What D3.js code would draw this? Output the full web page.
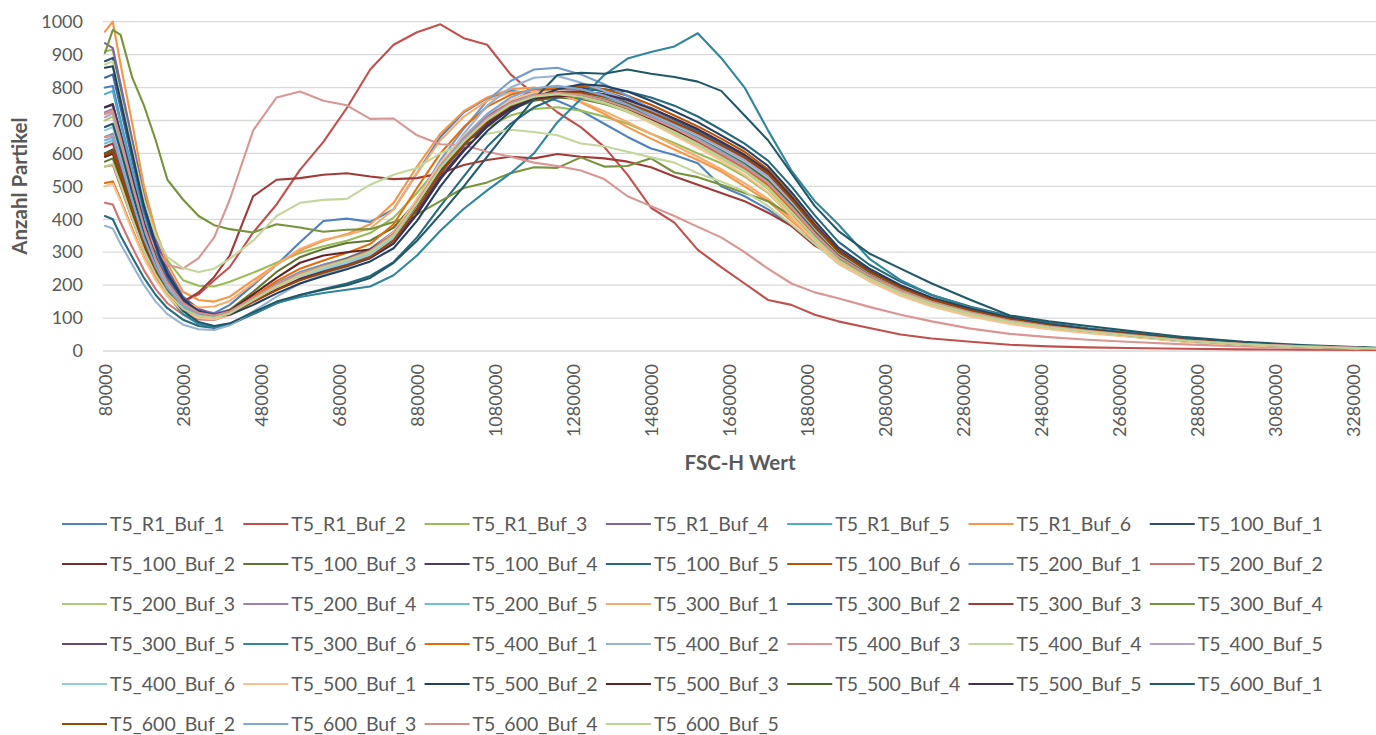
<!DOCTYPE html>
<html><head><meta charset="utf-8">
<script src="https://cdn.jsdelivr.net/npm/d3@7"></script>
<style>
html,body{margin:0;padding:0;background:#fff;}
svg{display:block;font-family:Lato,"Open Sans",sans-serif;}
</style></head>
<body><svg id="c" width="1376" height="735"></svg>
<script>
// FSC-H categories (x values of the data points)
const fscValues = [80000,100000,120000,150000,180000,210000,240000,280000,320000,360000,
 400000,460000,520000,580000,640000,700000,760000,820000,880000,940000,
 1000000,1060000,1120000,1180000,1240000,1300000,1360000,1420000,1480000,1540000,
 1600000,1660000,1720000,1780000,1840000,1900000,1960000,2040000,2120000,2200000,
 2300000,2400000,2500000,2600000,2700000,2850000,3000000,3150000,3340000];
const xTickLabels = [80000,280000,480000,680000,880000,1080000,1280000,1480000,1680000,1880000,2080000,2280000,2480000,2680000,2880000,3080000,3280000];
const yTickLabels = [0,100,200,300,400,500,600,700,800,900,1000];

const T5_R1_Buf_1 = [800,805,700,550,400,290,215,150,122,115, 140,200,262,330,395,402,392,430,540,650, 725,768,790,782,760,730,690,650,615,595, 570,500,470,430,380,330,275,222,180,146, 114,90,72,59,48,31,20,13,7];
const T5_R1_Buf_2 = [560,565,500,400,305,230,175,150,172,215, 255,360,445,550,635,738,855,930,968,992, 950,930,840,780,725,680,620,535,435,390, 307,255,205,155,140,110,90,70,50,38, 28,19,14,11,9,7,5,4,3];
const T5_R1_Buf_3 = [910,915,800,640,480,360,275,215,198,196, 210,238,268,298,318,335,358,405,480,565, 625,680,715,735,740,730,712,690,660,632, 600,570,530,480,410,335,270,218,175,142, 112,88,71,58,47,30,20,13,7];
const T5_R1_Buf_4 = [935,920,810,640,470,340,250,165,128,112, 125,165,205,238,262,282,310,362,458,568, 642,712,760,790,798,790,772,748,718,688, 655,615,575,525,450,368,296,234,190,152, 120,95,77,62,51,33,21,14,8];
const T5_R1_Buf_5 = [780,790,690,545,400,292,215,148,115,102, 112,150,188,222,246,266,290,335,425,530, 610,685,738,770,785,785,772,752,725,695, 662,622,580,530,455,372,298,236,190,154, 121,96,77,63,52,34,22,14,8];
const T5_R1_Buf_6 = [970,1000,870,690,500,365,265,180,155,150, 165,215,262,305,335,355,385,450,560,660, 728,770,795,800,785,755,720,680,645,612, 580,545,500,455,395,335,275,222,178,144, 112,87,70,57,46,29,19,12,7];
const T5_100_Buf_1 = [880,890,780,615,450,325,238,160,122,110, 122,162,200,232,254,272,298,345,440,548, 628,700,752,782,798,800,788,765,738,705, 672,632,592,540,462,380,305,242,195,158, 124,98,79,64,52,34,22,14,8];
const T5_100_Buf_2 = [600,612,540,430,325,245,185,132,110,104, 118,158,196,228,250,268,292,340,435,545, 625,695,742,768,778,775,760,738,708,676, 642,602,562,512,438,358,288,229,185,150, 118,93,75,61,50,32,21,14,8];
const T5_100_Buf_3 = [575,585,520,415,315,238,180,130,108,104, 125,180,240,285,310,328,335,375,455,550, 625,690,735,760,770,765,750,728,700,668, 635,598,558,508,435,356,288,230,186,151, 119,94,76,62,50,33,21,14,8];
const T5_100_Buf_4 = [740,750,660,520,385,282,208,145,115,106, 116,152,190,222,245,262,285,330,420,528, 612,688,740,772,785,785,775,755,728,698, 665,628,588,538,460,376,300,238,192,155, 122,96,78,63,51,33,22,14,8];
const T5_100_Buf_5 = [410,400,350,285,222,170,130,95,76,70, 80,112,145,170,188,205,228,270,345,440, 530,620,690,740,770,790,795,788,770,745, 712,672,630,578,500,412,332,262,210,170, 134,106,85,69,56,37,24,15,9];
const T5_100_Buf_6 = [590,600,530,425,322,242,182,130,106,100, 115,155,192,222,244,262,288,335,432,545, 630,705,755,785,800,805,795,775,748,715, 682,645,605,552,472,385,308,244,196,158, 124,98,79,64,52,34,22,14,8];
const T5_200_Buf_1 = [650,660,585,465,350,262,196,140,112,104, 118,162,205,240,262,280,305,358,460,580, 675,760,820,855,860,840,810,775,735,695, 655,610,565,512,435,352,282,224,180,146, 115,91,73,60,49,32,21,13,8];
const T5_200_Buf_2 = [450,445,390,315,245,188,145,110,96,94, 110,150,190,225,248,268,292,342,440,550, 632,702,750,775,782,775,758,732,700,668, 632,592,552,502,428,350,282,225,182,148, 117,92,74,60,49,32,21,14,8];
const T5_200_Buf_3 = [700,712,628,495,368,272,202,142,112,102, 112,150,188,220,242,262,288,338,435,545, 628,698,745,770,778,770,752,726,695,660, 625,585,545,492,418,340,272,218,176,143, 113,89,72,59,48,31,20,13,7];
const T5_200_Buf_4 = [725,735,648,510,378,278,205,143,113,104, 116,155,195,230,252,272,298,348,445,555, 638,708,755,780,790,785,770,745,715,685, 650,612,572,522,448,366,294,234,188,152, 120,95,76,62,51,33,21,14,8];
const T5_200_Buf_5 = [630,640,565,450,340,255,192,136,108,100, 112,150,190,224,246,266,290,340,438,548, 630,700,748,775,785,780,765,742,712,680, 646,606,566,516,442,360,290,230,185,150, 118,93,75,61,50,32,21,14,8];
const T5_300_Buf_1 = [720,730,645,510,380,280,208,150,132,135, 152,205,262,310,338,352,372,430,540,640, 712,760,785,790,780,758,728,695,660,625, 590,552,510,462,400,335,275,222,178,143, 111,86,69,56,45,29,19,12,7];
const T5_300_Buf_2 = [830,840,738,580,425,308,225,155,120,108, 118,158,196,228,250,270,296,345,442,552, 635,705,752,780,792,790,778,756,728,698, 665,628,588,538,462,378,303,240,193,156, 123,97,78,63,52,34,22,14,8];
const T5_300_Buf_3 = [620,630,555,440,335,252,190,150,178,225, 290,470,520,525,535,540,530,522,525,540, 565,580,590,585,598,590,585,575,558,530, 505,480,455,420,380,320,280,225,180,145, 113,88,71,58,47,30,20,13,7];
const T5_300_Buf_4 = [905,975,960,830,745,640,520,460,410,382, 370,360,385,375,362,368,370,392,415,455, 495,512,540,558,556,588,560,562,585,542, 528,505,480,455,410,345,280,225,180,147, 115,90,72,59,48,31,20,13,7];
const T5_300_Buf_5 = [600,608,538,428,325,245,185,132,108,102, 114,152,190,222,245,264,290,338,432,540, 622,695,745,775,788,786,774,752,724,694, 660,622,582,532,455,372,298,236,190,154, 121,95,77,62,51,33,21,14,8];
const T5_300_Buf_6 = [650,655,580,455,335,240,170,112,82,72, 80,115,146,164,176,186,196,230,290,365, 432,488,540,600,695,765,838,888,908,925, 965,890,800,670,548,455,385,280,215,170, 132,104,83,67,55,36,23,15,9];
const T5_400_Buf_1 = [510,515,460,370,285,218,168,122,102,100, 118,165,212,250,275,298,325,385,495,600, 680,742,778,795,800,790,772,745,712,675, 640,600,558,505,432,355,285,228,183,148, 116,91,73,60,49,32,21,13,8];
const T5_400_Buf_2 = [380,372,325,262,200,150,112,80,66,64, 78,120,165,205,232,255,282,335,440,560, 660,745,800,830,835,815,790,760,728,695, 660,620,578,525,448,365,292,232,186,150, 118,93,75,61,50,32,21,14,8];
const T5_400_Buf_3 = [650,655,580,470,380,310,262,250,282,345, 460,670,770,788,760,746,705,706,655,628, 625,605,590,572,562,548,522,470,440,410, 377,345,300,250,205,178,160,134,110,90, 68,52,42,34,28,20,14,9,6];
const T5_400_Buf_4 = [870,880,775,615,460,350,285,252,240,250, 280,335,410,450,459,462,505,535,556,600, 632,660,672,665,655,630,622,605,588,572, 540,515,485,440,385,325,265,212,170,138, 108,85,68,56,45,29,19,12,7];
const T5_400_Buf_5 = [710,722,640,505,375,278,205,145,114,105, 115,152,192,226,250,270,295,345,440,552, 635,705,752,778,790,788,775,752,722,692, 658,620,580,530,452,368,295,234,188,152, 120,95,76,62,50,33,21,14,8];
const T5_400_Buf_6 = [670,680,600,475,355,265,198,140,111,103, 114,152,192,226,248,268,292,342,438,550, 632,702,750,776,786,782,768,745,715,684, 650,612,572,522,446,364,292,232,186,151, 119,94,76,62,50,33,21,14,8];
const T5_500_Buf_1 = [500,508,455,365,282,216,166,120,100,96, 110,150,190,228,255,278,305,360,462,572, 652,720,762,785,790,780,758,728,692,655, 618,578,535,482,410,335,268,212,168,135, 105,82,66,54,44,28,18,12,7];
const T5_500_Buf_2 = [860,865,760,600,440,318,232,158,120,106, 110,140,175,205,228,248,272,312,395,500, 590,668,728,768,795,810,805,788,760,728, 695,655,615,562,482,395,315,250,200,162, 128,101,81,66,54,35,23,15,8];
const T5_500_Buf_3 = [590,600,532,425,322,242,182,130,108,104, 122,172,222,268,290,300,308,352,445,550, 628,695,740,765,775,772,758,735,705,672, 638,600,560,510,436,356,286,228,184,149, 117,92,74,61,49,32,21,14,8];
const T5_500_Buf_4 = [600,610,540,432,328,248,188,135,110,104, 118,160,200,235,258,280,306,355,448,552, 630,698,745,772,782,778,764,742,712,680, 646,608,568,518,444,362,290,230,185,150, 118,93,75,61,50,32,21,14,8];
const T5_500_Buf_5 = [740,748,660,522,388,285,210,148,117,107, 115,150,186,218,240,258,282,326,415,522, 608,682,735,768,785,788,780,762,736,706, 674,636,596,546,468,382,305,242,195,158, 124,98,79,64,52,34,22,14,8];
const T5_600_Buf_1 = [680,690,610,480,355,258,185,122,88,76, 84,118,150,170,186,200,222,268,335,415, 500,590,680,765,838,845,842,855,842,832, 818,790,715,640,540,440,365,296,250,205, 155,108,90,76,62,42,28,18,10];
const T5_600_Buf_2 = [595,605,535,428,325,245,186,134,110,103, 114,150,185,215,238,258,285,336,432,540, 625,698,748,775,786,785,772,752,725,694, 662,625,588,540,462,378,302,240,193,156, 123,97,78,63,52,34,22,14,8];
const T5_600_Buf_3 = [640,648,572,455,342,256,192,136,110,102, 114,155,196,232,256,276,302,352,450,562, 648,720,770,798,805,795,776,748,715,680, 645,605,564,512,438,356,286,228,184,149, 117,92,74,60,49,32,21,14,8];
const T5_600_Buf_4 = [720,728,645,508,378,280,208,146,116,108, 120,162,202,236,258,278,304,355,452,560, 640,708,752,776,784,778,762,738,708,676, 640,600,560,510,436,356,286,228,184,149, 117,92,74,61,49,32,21,14,8];
const T5_600_Buf_5 = [560,568,505,402,305,232,176,128,106,101, 114,155,196,230,254,275,300,350,448,556, 636,702,748,772,780,772,755,730,698,665, 628,588,548,496,422,344,276,220,177,144, 113,89,72,59,48,31,20,13,7];

const seriesNames = ["T5_R1_Buf_1","T5_R1_Buf_2","T5_R1_Buf_3","T5_R1_Buf_4","T5_R1_Buf_5","T5_R1_Buf_6",
 "T5_100_Buf_1","T5_100_Buf_2","T5_100_Buf_3","T5_100_Buf_4","T5_100_Buf_5","T5_100_Buf_6",
 "T5_200_Buf_1","T5_200_Buf_2","T5_200_Buf_3","T5_200_Buf_4","T5_200_Buf_5",
 "T5_300_Buf_1","T5_300_Buf_2","T5_300_Buf_3","T5_300_Buf_4","T5_300_Buf_5","T5_300_Buf_6",
 "T5_400_Buf_1","T5_400_Buf_2","T5_400_Buf_3","T5_400_Buf_4","T5_400_Buf_5","T5_400_Buf_6",
 "T5_500_Buf_1","T5_500_Buf_2","T5_500_Buf_3","T5_500_Buf_4","T5_500_Buf_5",
 "T5_600_Buf_1","T5_600_Buf_2","T5_600_Buf_3","T5_600_Buf_4","T5_600_Buf_5"];
const seriesValues = [T5_R1_Buf_1,T5_R1_Buf_2,T5_R1_Buf_3,T5_R1_Buf_4,T5_R1_Buf_5,T5_R1_Buf_6,
 T5_100_Buf_1,T5_100_Buf_2,T5_100_Buf_3,T5_100_Buf_4,T5_100_Buf_5,T5_100_Buf_6,
 T5_200_Buf_1,T5_200_Buf_2,T5_200_Buf_3,T5_200_Buf_4,T5_200_Buf_5,
 T5_300_Buf_1,T5_300_Buf_2,T5_300_Buf_3,T5_300_Buf_4,T5_300_Buf_5,T5_300_Buf_6,
 T5_400_Buf_1,T5_400_Buf_2,T5_400_Buf_3,T5_400_Buf_4,T5_400_Buf_5,T5_400_Buf_6,
 T5_500_Buf_1,T5_500_Buf_2,T5_500_Buf_3,T5_500_Buf_4,T5_500_Buf_5,
 T5_600_Buf_1,T5_600_Buf_2,T5_600_Buf_3,T5_600_Buf_4,T5_600_Buf_5];
const seriesColors = ["#4F81BD","#C0504D","#9BBB59","#8064A2","#4BACC6","#F79646",
 "#2C4D75","#772C2A","#5F7530","#4D3B62","#276A7C","#B65708",
 "#729ACA","#CD7371","#AFC97A","#9983B5","#6FBDD1",
 "#F9AB6B","#3A679C","#9F3B38","#77933C","#604A7B","#31859C",
 "#E46C0A","#95B3D7","#D99694","#C3D69B","#B3A2C7","#93CDDD",
 "#FAC090","#244062","#632523","#4F6228","#403151",
 "#215968","#974806","#82A6D3","#D5908E","#BCD392"];

seriesValues.forEach((v,i)=>{ if(v.length!==fscValues.length) console.error(seriesNames[i]+" length "+v.length); });

const svg = d3.select("#c");
const textColor = "#595959";
const x = d3.scaleLinear().domain([80000, 3340000]).range([105, 1376.4]);
const y = d3.scaleLinear().domain([0, 1000]).range([351, 21.7]);

// gridlines
svg.append("g").selectAll("line").data(yTickLabels).join("line")
  .attr("x1", 103).attr("x2", 1376)
  .attr("y1", d => y(d)).attr("y2", d => y(d))
  .attr("stroke", "#D9D9D9").attr("stroke-width", 1.3);

// y axis labels
const yAxis = d3.axisLeft(y).tickValues(yTickLabels).tickSize(0).tickPadding(0).tickFormat(d => String(d));
const gy = svg.append("g").attr("transform", "translate(83,0)").call(yAxis);
gy.select(".domain").remove();
gy.selectAll("text").attr("fill", textColor).style("font-size", "18px").style("font-family", "Lato");

// x axis labels (rotated)
const xAxis = d3.axisBottom(x).tickValues(xTickLabels).tickSize(0).tickFormat(d => String(d));
const gx = svg.append("g").attr("transform", "translate(0,364)").call(xAxis);
gx.select(".domain").remove();
gx.selectAll("text").attr("fill", textColor).style("font-size", "18px").style("font-family", "Lato")
  .attr("transform", "rotate(-90)").attr("x", 0).attr("y", 0).attr("dy", "0.35em")
  .attr("text-anchor", "end");

// lines
const line = d3.line().x((d, i) => x(fscValues[i])).y(d => y(d)).curve(d3.curveLinear);
svg.append("g").selectAll("path").data(seriesValues).join("path")
  .attr("d", d => line(d)).attr("fill", "none")
  .attr("stroke", (d, i) => seriesColors[i]).attr("stroke-width", 2.1)
  .attr("stroke-linejoin", "round").attr("stroke-linecap", "round");

// axis titles
svg.append("text").attr("transform", "translate(27,186) rotate(-90)")
  .attr("text-anchor", "middle").attr("fill", textColor)
  .style("font-size", "20.5px").style("font-weight", "bold").text("Anzahl Partikel");
svg.append("text").attr("x", 740).attr("y", 470)
  .attr("text-anchor", "middle").attr("fill", textColor)
  .style("font-size", "20.5px").style("font-weight", "bold").text("FSC-H Wert");

// legend
const legend = svg.append("g");
const items = legend.selectAll("g").data(seriesNames).join("g")
  .attr("transform", (d, i) => `translate(${62 + (i % 7) * 181.3},${524 + Math.floor(i / 7) * 40})`);
items.append("line").attr("x1", 0).attr("x2", 45).attr("y1", 0).attr("y2", 0)
  .attr("stroke", (d, i) => seriesColors[i]).attr("stroke-width", 2.1);
items.append("text").attr("x", 48).attr("y", 0).attr("dy", "0.35em")
  .attr("fill", textColor).style("font-size", "19.5px").text(d => d);
</script></body></html>
